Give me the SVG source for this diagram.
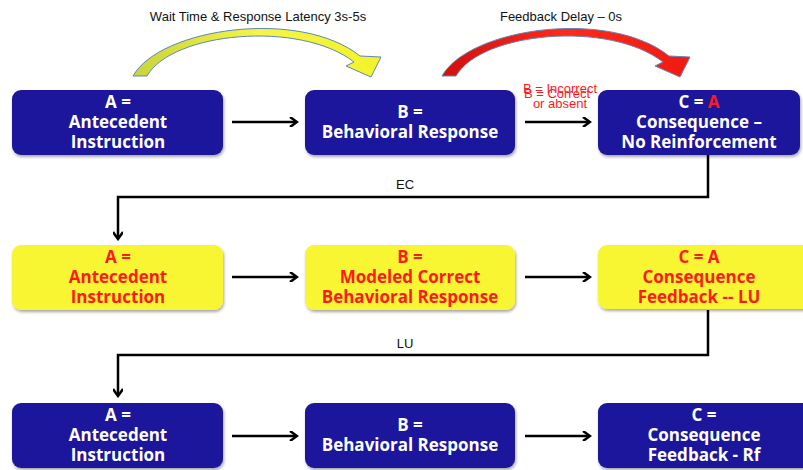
<svg xmlns="http://www.w3.org/2000/svg" width="803" height="470" viewBox="0 0 803 470">
<defs>
<style>
.blue{fill:#1a189c;}
.yel{fill:#f8f630;}
.box{filter:url(#sh);}
.bt{font-family:"Open Sans","Liberation Sans",sans-serif;font-weight:bold;font-size:17px;text-anchor:middle;fill:#ffffff;}
.rt{fill:#ff1a1a;}
.lbl{font-family:"Liberation Sans",Arial,sans-serif;font-size:13px;fill:#111;text-anchor:middle;}
.conn{stroke:#000;stroke-width:2.5;fill:none;}
.sm{font-family:"Liberation Sans",Arial,sans-serif;font-size:13px;fill:#ff1a1a;text-anchor:middle;}
</style>
<filter id="sh" x="-10%" y="-10%" width="120%" height="130%"><feDropShadow dx="1" dy="2" stdDeviation="1.5" flood-color="#000" flood-opacity="0.35"/></filter>
<marker id="ah" markerWidth="10" markerHeight="10" refX="7" refY="5" orient="auto" markerUnits="userSpaceOnUse"><path d="M1,0 L8,5 L1,10" fill="none" stroke="#000" stroke-width="2.5"/></marker>
<linearGradient id="gy" x1="0" y1="0" x2="1" y2="0"><stop offset="0" stop-color="#c9d43a"/><stop offset="0.5" stop-color="#f4f545"/><stop offset="1" stop-color="#f3f32a"/></linearGradient>
<linearGradient id="gr" x1="0" y1="0" x2="1" y2="0"><stop offset="0" stop-color="#d11010"/><stop offset="0.5" stop-color="#ff2a1a"/><stop offset="1" stop-color="#f01a10"/></linearGradient>
</defs>
<rect width="803" height="470" fill="#fff"/>

<g id="connectors">
<path class="conn" d="M232,122 H296" marker-end="url(#ah)"/>
<path class="conn" d="M525,122 H589" marker-end="url(#ah)"/>
<path class="conn" d="M232,277 H296" marker-end="url(#ah)"/>
<path class="conn" d="M525,277 H589" marker-end="url(#ah)"/>
<path class="conn" d="M232,436 H296" marker-end="url(#ah)"/>
<path class="conn" d="M525,436 H589" marker-end="url(#ah)"/>
<path class="conn" d="M708,155 V197 H118 V238" marker-end="url(#ah)"/>
<path class="conn" d="M708,310 V355 H118 V395" marker-end="url(#ah)"/>
<text class="lbl" x="405" y="189">EC</text>
<text class="lbl" x="405" y="348">LU</text>
<path id="arcY" d="M133,76 C160,28 300,8 360,56 L381,57 L371,77 L346,66 L354,62 C300,20 172,32 147,76 Z" fill="url(#gy)" stroke="#5f86bb" stroke-width="1"/>
<path id="arcR" d="M133,76 C160,28 300,8 360,56 L381,57 L371,77 L346,66 L354,62 C300,20 172,32 147,76 Z" transform="translate(309,0)" fill="url(#gr)" stroke="#5f86bb" stroke-width="1"/>
<text class="lbl" x="258" y="21">Wait Time &amp; Response Latency 3s-5s</text>
<text class="lbl" x="561" y="21">Feedback Delay – 0s</text>
<text class="sm" x="560" y="93">B = Incorrect</text>
<text class="sm" x="557" y="98">B = Correct</text>
<text class="sm" x="560" y="108">or absent</text>
</g>

<g id="r1a"><rect class="box blue" x="12" y="90" width="211" height="65" rx="9"/>
<text class="bt" x="118" y="108">A =</text><text class="bt" x="118" y="128">Antecedent</text><text class="bt" x="118" y="148">Instruction</text></g>
<g id="r1b"><rect class="box blue" x="305" y="90" width="210" height="65" rx="9"/>
<text class="bt" x="410" y="118">B =</text><text class="bt" x="410" y="138">Behavioral Response</text></g>
<g id="r1c"><rect class="box blue" x="598" y="90" width="202" height="65" rx="9"/>
<text class="bt" x="699" y="108">C = <tspan class="rt">A</tspan></text><text class="bt" x="699" y="128">Consequence –</text><text class="bt" x="699" y="148">No Reinforcement</text></g>

<g id="r2a"><rect class="box yel" x="12" y="245" width="211" height="65" rx="9"/>
<text class="bt rt" x="118" y="263">A =</text><text class="bt rt" x="118" y="283">Antecedent</text><text class="bt rt" x="118" y="303">Instruction</text></g>
<g id="r2b"><rect class="box yel" x="305" y="245" width="210" height="65" rx="9"/>
<text class="bt rt" x="410" y="263">B =</text><text class="bt rt" x="410" y="283">Modeled Correct</text><text class="bt rt" x="410" y="303">Behavioral Response</text></g>
<g id="r2c"><rect class="box yel" x="598" y="245" width="215" height="64" rx="9"/>
<text class="bt rt" x="699" y="263">C = A</text><text class="bt rt" x="699" y="283">Consequence</text><text class="bt rt" x="699" y="303">Feedback -- LU</text></g>

<g id="r3a"><rect class="box blue" x="12" y="403" width="211" height="65" rx="9"/>
<text class="bt" x="118" y="421">A =</text><text class="bt" x="118" y="441">Antecedent</text><text class="bt" x="118" y="461">Instruction</text></g>
<g id="r3b"><rect class="box blue" x="305" y="403" width="210" height="65" rx="9"/>
<text class="bt" x="410" y="431">B =</text><text class="bt" x="410" y="451">Behavioral Response</text></g>
<g id="r3c"><rect class="box blue" x="598" y="403" width="215" height="65" rx="9"/>
<text class="bt" x="704" y="421">C =</text><text class="bt" x="704" y="441">Consequence</text><text class="bt" x="704" y="461">Feedback - Rf</text></g>
</svg>
